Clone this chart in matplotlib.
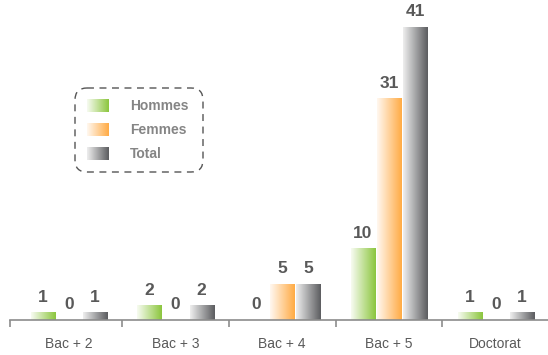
import numpy as np
import matplotlib
matplotlib.use("Agg")
import matplotlib.pyplot as plt
from matplotlib.colors import LinearSegmentedColormap
from matplotlib.patches import FancyBboxPatch

categories = ["Bac + 2", "Bac + 3", "Bac + 4", "Bac + 5", "Doctorat"]
hommes = [1, 2, 0, 10, 1]
femmes = [0, 0, 5, 31, 0]
total = [1, 2, 5, 41, 1]
series_names = ["Hommes", "Femmes", "Total"]

# (light left, dark right) for each series
grads = [("#f7fbf1", "#8cc63e"), ("#fff8f0", "#ffab45"), ("#eeeeee", "#5c5d60")]

plt.rcParams["font.family"] = ["Liberation Sans Narrow", "Liberation Sans", "DejaVu Sans"]

fig = plt.figure(figsize=(5.48, 3.55), dpi=100)
ax = fig.add_axes([10 / 548, 35 / 355, 538 / 548, 320 / 355])

x = np.arange(len(categories))
width = 0.225
offsets = [-0.245, 0, 0.245]
label_col = "#595959"

for vals, off, (c0, c1) in zip([hommes, femmes, total], offsets, grads):
    cmap = LinearSegmentedColormap.from_list("g", [c0, c1])
    grad = np.linspace(0, 1, 64).reshape(1, -1)
    bars = ax.bar(x + off, vals, width, color="none", edgecolor="none")
    for b, v in zip(bars, vals):
        bx, by, bw, bh = b.get_x(), b.get_y(), b.get_width(), b.get_height()
        if bh > 0:
            ax.imshow(grad, cmap=cmap, aspect="auto", extent=(bx, bx + bw, by, by + bh),
                      interpolation="bicubic", zorder=2)
        ax.text(bx + bw / 2, v + 1.1, str(v), ha="center", va="bottom",
                fontsize=12.5, fontweight="bold", color=label_col)

ax.set_xlim(-0.55, 4.49)
ax.set_ylim(0, 44.8)
for s in ["top", "right", "left"]:
    ax.spines[s].set_visible(False)
ax.spines["bottom"].set_color("#8c8c8c")
ax.spines["bottom"].set_linewidth(1.2)
ax.set_yticks([])
ax.set_xticks([-0.55, 0.5, 1.5, 2.5, 3.5])
ax.set_xticklabels([])
ax.tick_params(axis="x", length=5, color="#8c8c8c", width=1.2)
for xi, c in zip(x, categories):
    ax.text(xi, -2.4, c, ha="center", va="top", fontsize=10, color=label_col)

# legend drawn in pixel coordinates on an overlay
ov = fig.add_axes([0, 0, 1, 1], zorder=5)
ov.set_xlim(0, 548)
ov.set_ylim(355, 0)
ov.axis("off")
box = FancyBboxPatch((75, 88), 128, 84, boxstyle="round,pad=0,rounding_size=12",
                     fill=False, edgecolor="#555555", linestyle=(0, (5, 4)), linewidth=1)
ov.add_patch(box)
for i, (name, (c0, c1)) in enumerate(zip(series_names, grads)):
    yc = 106 + i * 24
    cmap = LinearSegmentedColormap.from_list("g", [c0, c1])
    ov.imshow(np.linspace(0, 1, 64).reshape(1, -1), cmap=cmap, aspect="auto",
              extent=(87, 109, yc + 6.5, yc - 6.5), interpolation="bicubic")
    ov.text(130, yc, name, ha="left", va="center", fontsize=10,
            fontweight="bold", color="#858585")
ov.set_xlim(0, 548)
ov.set_ylim(355, 0)

fig.savefig("out.png", dpi=100)
